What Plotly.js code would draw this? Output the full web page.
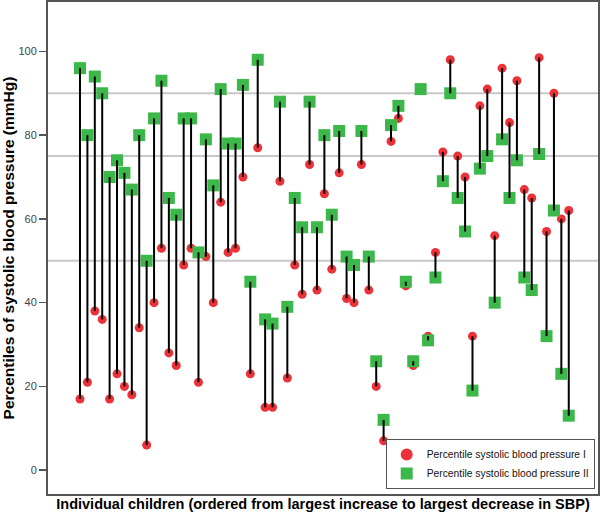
<!DOCTYPE html>
<html>
<head>
<meta charset="utf-8">
<script src="https://cdn.plot.ly/plotly-3.0.1.min.js"></script>
<style>html,body{margin:0;padding:0;background:#fff;}#chart{width:601px;height:516px;}</style>
</head>
<body>
<div id="chart"></div>
<script>
// Percentile of systolic blood pressure, first measurement (I), per child
const sbpI = [17,21,38,36,17,23,20,18,34,6,40,53,28,25,49,53,21,51,40,64,52,53,70,23,77,15,15,69,22,49,42,73,43,66,48,71,41,40,73,43,20,7,78.5,84,44,25,91,32,52,76,98,75,70,32,87,91,56,96,83,93,67,65,98.5,57,90,60,62];
// Percentile of systolic blood pressure, second measurement (II), per child
const sbpII = [96,80,94,90,70,74,71,67,80,50,84,93,65,61,84,84,52,79,68,91,78,78,92,45,98,36,35,88,39,65,58,88,58,80,61,81,51,49,81,51,26,12,82.4,87,45,26,91,31,46,69,90,65,57,19,72,75,40,79,65,74,46,43,75.5,32,62,23,13];
const yTicks = [0,20,40,60,80,100];
const refLines = [50,75,90];
const nameI = 'Percentile systolic blood pressure I';
const nameII = 'Percentile systolic blood pressure II';
const xTitle = 'Individual children (ordered from largest increase to largest decrease in SBP)';
const yTitle = 'Percentiles of systolic blood pressure (mmHg)';

const children = sbpI.map((_, i) => i + 1);

const segX = [], segY = [];
children.forEach((c, i) => { segX.push(c, c, null); segY.push(sbpI[i], sbpII[i], null); });

const FONT = 'Liberation Sans, Arial, sans-serif';

const traces = [
  {x: children, y: sbpI, type: 'scatter', mode: 'markers', name: nameI,
   marker: {symbol: 'circle', size: 9, color: '#ec3238', line: {width: 0}}},
  {x: children, y: sbpII, type: 'scatter', mode: 'markers', name: nameII,
   marker: {symbol: 'square', size: 12, color: '#3cb84a', line: {width: 0}}},
  {x: segX, y: segY, type: 'scatter', mode: 'lines', showlegend: false, hoverinfo: 'skip',
   line: {color: '#000', width: 2}}
];

const layout = {
  width: 601, height: 516,
  margin: {l: 48, r: 3, t: 2, b: 22, autoexpand: false},
  paper_bgcolor: '#fff', plot_bgcolor: '#fff',
  font: {family: FONT, size: 11, color: '#444'},
  showlegend: true,
  legend: {x: 0.614, y: 0.112, xanchor: 'left', yanchor: 'top',
    bordercolor: '#555', borderwidth: 1, bgcolor: '#fff',
    font: {family: FONT, size: 10.3, color: '#111'}, itemsizing: 'constant',
    tracegroupgap: 0},
  xaxis: {range: [-3.32, 70.95], showticklabels: false, ticks: '', showgrid: false, zeroline: false,
    showline: true, mirror: true, linecolor: '#555', linewidth: 2,
    title: {text: xTitle, font: {family: FONT, size: 14.5, color: '#000', weight: 'bold'}, standoff: 4}},
  yaxis: {range: [-5.7, 111.8], tickvals: yTicks, ticktext: yTicks.map(String), ticks: 'outside', ticklen: 7,
    tickcolor: '#555', tickwidth: 1.5, showgrid: false, zeroline: false,
    showline: true, mirror: true, linecolor: '#555', linewidth: 2,
    tickfont: {family: FONT, size: 11, color: '#444'},
    title: {text: yTitle, font: {family: FONT, size: 15.5, color: '#000', weight: 'bold'}, standoff: 2}},
  shapes: refLines.map(v => ({type: 'line', xref: 'paper', x0: 0, x1: 1, yref: 'y', y0: v, y1: v,
    line: {color: '#c8c8c8', width: 2}, layer: 'below'}))
};

Plotly.newPlot('chart', traces, layout, {displayModeBar: false, staticPlot: true});
</script>
</body>
</html>
